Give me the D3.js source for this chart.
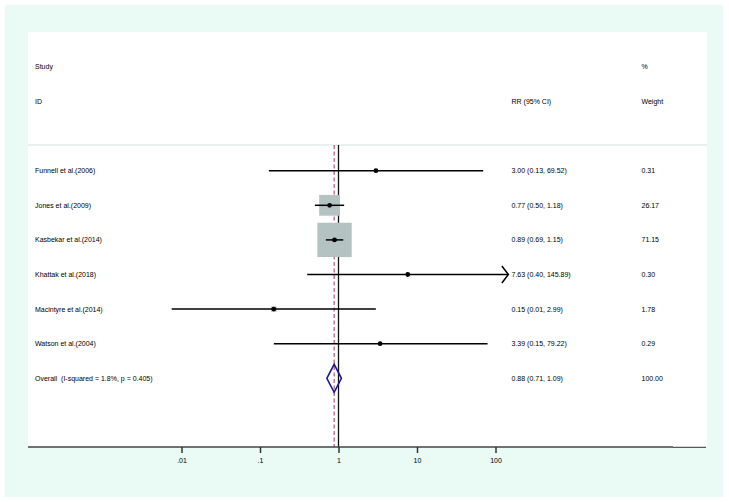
<!DOCTYPE html>
<html>
<head>
<meta charset="utf-8">
<script src="https://cdn.jsdelivr.net/npm/d3@7"></script>
<style>
  body { margin: 0; background: #ffffff; }
  text { font-family: "Liberation Sans", Arial, sans-serif; fill: #000; white-space: pre; }
</style>
</head>
<body>
<div id="chart"></div>
<script>
// --- data ---
const studies = ['Funnell et al.(2006)', 'Jones et al.(2009)', 'Kasbekar et al.(2014)',
                 'Khattak et al.(2018)', 'Macintyre et al.(2014)', 'Watson et al.(2004)'];
const rr      = [3.00, 0.77, 0.89, 7.63, 0.15, 3.39];
const lower   = [0.13, 0.50, 0.69, 0.40, 0.0075, 0.15];
const upper   = [69.52, 1.18, 1.15, 145.89, 2.99, 79.22];
const weights = [0.31, 26.17, 71.15, 0.30, 1.78, 0.29];
const rrLabels = ['3.00 (0.13, 69.52)', '0.77 (0.50, 1.18)', '0.89 (0.69, 1.15)',
                  '7.63 (0.40, 145.89)', '0.15 (0.01, 2.99)', '3.39 (0.15, 79.22)'];
const weightLabels = ['0.31', '26.17', '71.15', '0.30', '1.78', '0.29'];

const overallLabel = 'Overall  (I-squared = 1.8%, p = 0.405)';
const overall = {rr: 0.88, lower: 0.71, upper: 1.09, label: '0.88 (0.71, 1.09)', weight: '100.00'};

const tickValues = [0.01, 0.1, 1, 10, 100];
const tickLabels = ['.01', '.1', '1', '10', '100'];

// --- layout ---
const width = 729, height = 502;
const svg = d3.select('#chart').append('svg')
    .attr('width', width).attr('height', height);

// outer (graph region) and inner (plot region) backgrounds
svg.append('rect').attr('x', 5).attr('y', 5).attr('width', 718).attr('height', 492)
    .attr('fill', '#eafaf5');
svg.append('rect').attr('x', 28).attr('y', 32).attr('width', 679).attr('height', 415)
    .attr('fill', '#ffffff');

const x = d3.scaleLog().domain([0.01, 100]).range([181.5, 495.5]);
// row index -> y ; headers sit on -3 and -2, overall on 6
const y = d3.scaleLinear().domain([0, 6]).range([170.7, 378.3]);

const fs = 7;
const colStudy = 35, colRR = 511.5, colW = 641.5;

// header
const header = svg.append('g');
header.append('text').attr('x', colStudy).attr('y', y(-3)).text('Study');
header.append('text').attr('x', colStudy).attr('y', y(-2)).text('ID');
header.append('text').attr('x', colRR).attr('y', y(-2)).text('RR (95% CI)');
header.append('text').attr('x', colW).attr('y', y(-3)).text('%');
header.append('text').attr('x', colW).attr('y', y(-2)).text('Weight');
header.selectAll('text').attr('dy', '0.35em').style('font-size', fs + 'px');

svg.append('line')
    .attr('x1', 28).attr('x2', 707).attr('y1', 145).attr('y2', 145)
    .attr('stroke', '#e3eaea').attr('stroke-width', 1.5);

// reference lines
const refTop = 145, axisY = 447;
svg.append('line')
    .attr('x1', x(1)).attr('x2', x(1)).attr('y1', refTop).attr('y2', axisY)
    .attr('stroke', '#111').attr('stroke-width', 1.3);
svg.append('line')
    .attr('x1', x(overall.rr)).attr('x2', x(overall.rr)).attr('y1', refTop).attr('y2', axisY)
    .attr('stroke', '#b0305c').attr('stroke-width', 1).attr('stroke-dasharray', '4,2.5');

const idx = d3.range(studies.length);

// weight boxes
const boxSide = w => 4.07 * Math.sqrt(w);
svg.append('g').selectAll('rect')
    .data(idx)
    .join('rect')
        .attr('x', i => x(rr[i]) - boxSide(weights[i]) / 2)
        .attr('y', i => y(i) - boxSide(weights[i]) / 2)
        .attr('width', i => boxSide(weights[i]))
        .attr('height', i => boxSide(weights[i]))
        .attr('fill', '#b4c2c2');

// CI lines
svg.append('g').selectAll('line')
    .data(idx)
    .join('line')
        .attr('x1', i => x(lower[i]))
        .attr('x2', i => x(upper[i]))
        .attr('y1', i => y(i))
        .attr('y2', i => y(i))
        .attr('stroke', '#000').attr('stroke-width', 1.5);

// arrows for CIs running past the axis
svg.append('g').selectAll('path')
    .data(idx.filter(i => upper[i] > x.domain()[1]))
    .join('path')
        .attr('d', i => {
            const tx = x(upper[i]), ty = y(i);
            return `M${tx - 6.5},${ty - 8.5}L${tx},${ty}L${tx - 6.5},${ty + 8.5}`;
        })
        .attr('fill', 'none').attr('stroke', '#000').attr('stroke-width', 1.5);

// point estimates
svg.append('g').selectAll('circle')
    .data(idx)
    .join('circle')
        .attr('cx', i => x(rr[i]))
        .attr('cy', i => y(i))
        .attr('r', 2.4)
        .attr('fill', '#000');

// overall diamond
const dy = y(6);
svg.append('path')
    .attr('d', `M${x(overall.lower)},${dy}L${x(overall.rr)},${dy - 14}L${x(overall.upper)},${dy}L${x(overall.rr)},${dy + 14}Z`)
    .attr('fill', 'none').attr('stroke', '#1a1a8e').attr('stroke-width', 1.6);

// row texts
const rows = svg.append('g');
rows.selectAll('.study')
    .data(idx)
    .join('text')
        .attr('x', colStudy).attr('y', i => y(i)).text(i => studies[i]);
rows.selectAll('.rr')
    .data(idx)
    .join('text')
        .attr('x', colRR).attr('y', i => y(i)).text(i => rrLabels[i]);
rows.selectAll('.w')
    .data(idx)
    .join('text')
        .attr('x', colW).attr('y', i => y(i)).text(i => weightLabels[i]);
rows.append('text').attr('x', colStudy).attr('y', dy).text(overallLabel);
rows.append('text').attr('x', colRR).attr('y', dy).text(overall.label);
rows.append('text').attr('x', colW).attr('y', dy).text(overall.weight);
rows.selectAll('text').attr('dy', '0.35em').style('font-size', fs + 'px');

// x axis
svg.append('line')
    .attr('x1', 28).attr('x2', 673).attr('y1', axisY).attr('y2', axisY)
    .attr('stroke', '#444').attr('stroke-width', 1.3);
svg.append('line')
    .attr('x1', 673).attr('x2', 706).attr('y1', axisY + 0.3).attr('y2', axisY + 0.3)
    .attr('stroke', '#333').attr('stroke-width', 1);

const axis = d3.axisBottom(x)
    .tickValues(tickValues)
    .tickFormat((d, i) => tickLabels[i])
    .tickSize(6)
    .tickPadding(5);

const gAxis = svg.append('g')
    .attr('transform', `translate(0,${axisY})`)
    .call(axis);
gAxis.select('.domain').remove();
gAxis.selectAll('.tick line').attr('stroke', '#333').attr('stroke-width', 1.5);
gAxis.selectAll('.tick text')
    .style('font-family', '"Liberation Sans", Arial, sans-serif')
    .style('font-size', fs + 'px').attr('fill', '#000');
</script>
</body>
</html>
